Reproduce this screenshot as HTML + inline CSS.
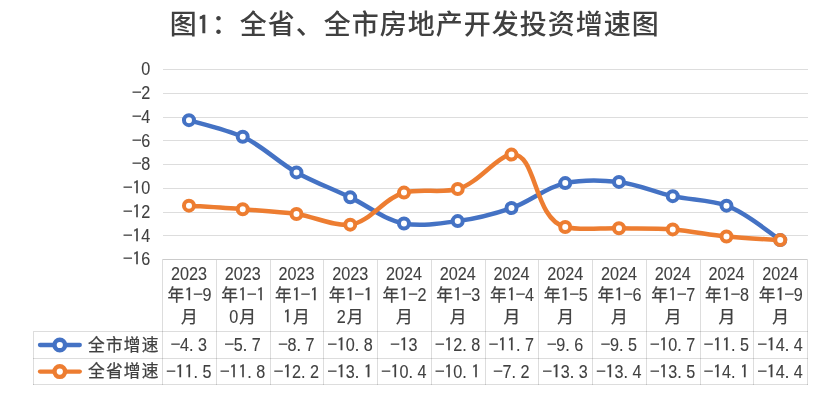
<!DOCTYPE html>
<html lang="zh-CN">
<head>
<meta charset="utf-8">
<title>图1：全省、全市房地产开发投资增速图</title>
<style>
html,body{margin:0;padding:0;background:#fff;}
body{width:826px;height:401px;overflow:hidden;}
svg{display:block;}
text{font-family:"Liberation Sans","Noto Sans CJK SC",sans-serif;fill:#404040;}
.t{font-size:18px;text-anchor:middle;stroke:#404040;stroke-width:0.1px;}
.c{font-size:16.7px;stroke-width:0.25px;}
.n{font-family:"IPAGothic","Liberation Sans",sans-serif;font-size:18px;stroke-width:0.25px;}
.h{stroke-width:0;}
.p{stroke-width:0;}
.tn{font-family:"IPAGothic","Liberation Sans",sans-serif;font-size:26px;font-weight:400;stroke:#404040;stroke-width:0.7px;}
.title{font-size:27px;letter-spacing:0px;font-weight:500;text-anchor:middle;}
</style>
</head>
<body>
<svg width="826" height="401" viewBox="0 0 826 401">
<rect width="826" height="401" fill="#fff"/>
<g stroke="#000" stroke-opacity="0.135" stroke-width="1" fill="none" shape-rendering="crispEdges">
<line x1="163" y1="69.5" x2="807.5" y2="69.5"/>
<line x1="163" y1="93.5" x2="807.5" y2="93.5"/>
<line x1="163" y1="117.5" x2="807.5" y2="117.5"/>
<line x1="163" y1="140.5" x2="807.5" y2="140.5"/>
<line x1="163" y1="164.5" x2="807.5" y2="164.5"/>
<line x1="163" y1="188.5" x2="807.5" y2="188.5"/>
<line x1="163" y1="212.5" x2="807.5" y2="212.5"/>
<line x1="163" y1="235.5" x2="807.5" y2="235.5"/>
<line x1="162" y1="259.5" x2="808" y2="259.5"/>
<line x1="33" y1="331.5" x2="808" y2="331.5"/>
<line x1="33" y1="358.5" x2="808" y2="358.5"/>
<line x1="33" y1="384.5" x2="808" y2="384.5"/>
<line x1="163" y1="259.5" x2="807" y2="259.5" stroke-opacity="0.08"/>
<line x1="162.5" y1="259.5" x2="162.5" y2="384.5"/>
<line x1="216.5" y1="259.5" x2="216.5" y2="384.5"/>
<line x1="270.5" y1="259.5" x2="270.5" y2="384.5"/>
<line x1="323.5" y1="259.5" x2="323.5" y2="384.5"/>
<line x1="377.5" y1="259.5" x2="377.5" y2="384.5"/>
<line x1="431.5" y1="259.5" x2="431.5" y2="384.5"/>
<line x1="485.5" y1="259.5" x2="485.5" y2="384.5"/>
<line x1="538.5" y1="259.5" x2="538.5" y2="384.5"/>
<line x1="592.5" y1="259.5" x2="592.5" y2="384.5"/>
<line x1="646.5" y1="259.5" x2="646.5" y2="384.5"/>
<line x1="700.5" y1="259.5" x2="700.5" y2="384.5"/>
<line x1="753.5" y1="259.5" x2="753.5" y2="384.5"/>
<line x1="807.5" y1="259.5" x2="807.5" y2="384.5"/>
<line x1="33.5" y1="331.5" x2="33.5" y2="384.5"/>
</g>
<text class="title" y="34.1"><tspan x="183.25" y="34.1">图</tspan><tspan class="tn" x="203.55" y="34">1</tspan><tspan x="225.25 253.25 281.25 309.25 337.25 365.25 393.25 421.25 449.25 477.25 505.25 533.25 561.25 589.25 617.25 645.25" y="34.1">：全省、全市房地产开发投资增速图</tspan></text>
<g>
<text class="t" y="75.4"><tspan x="145.8" textLength="9" lengthAdjust="spacingAndGlyphs">0</tspan></text>
<text class="t" y="99.15"><tspan class="n h" x="136.8" y="99.15" textLength="10.6" lengthAdjust="spacingAndGlyphs">-</tspan><tspan x="145.8" y="99.15" textLength="9" lengthAdjust="spacingAndGlyphs">2</tspan></text>
<text class="t" y="122.9"><tspan class="n h" x="136.8" y="122.9" textLength="10.6" lengthAdjust="spacingAndGlyphs">-</tspan><tspan x="145.8" y="122.9" textLength="9" lengthAdjust="spacingAndGlyphs">4</tspan></text>
<text class="t" y="146.65"><tspan class="n h" x="136.8" y="146.65" textLength="10.6" lengthAdjust="spacingAndGlyphs">-</tspan><tspan x="145.8" y="146.65" textLength="9" lengthAdjust="spacingAndGlyphs">6</tspan></text>
<text class="t" y="170.4"><tspan class="n h" x="136.8" y="170.4" textLength="10.6" lengthAdjust="spacingAndGlyphs">-</tspan><tspan x="145.8" y="170.4" textLength="9" lengthAdjust="spacingAndGlyphs">8</tspan></text>
<text class="t" y="194.15"><tspan class="n h" x="127.8" y="194.15" textLength="10.6" lengthAdjust="spacingAndGlyphs">-</tspan><tspan class="n" x="136.8" y="194.15">1</tspan><tspan x="145.8" y="194.15" textLength="9" lengthAdjust="spacingAndGlyphs">0</tspan></text>
<text class="t" y="217.9"><tspan class="n h" x="127.8" y="217.9" textLength="10.6" lengthAdjust="spacingAndGlyphs">-</tspan><tspan class="n" x="136.8" y="217.9">1</tspan><tspan x="145.8" y="217.9" textLength="9" lengthAdjust="spacingAndGlyphs">2</tspan></text>
<text class="t" y="241.65"><tspan class="n h" x="127.8" y="241.65" textLength="10.6" lengthAdjust="spacingAndGlyphs">-</tspan><tspan class="n" x="136.8" y="241.65">1</tspan><tspan x="145.8" y="241.65" textLength="9" lengthAdjust="spacingAndGlyphs">4</tspan></text>
<text class="t" y="265.4"><tspan class="n h" x="127.8" y="265.4" textLength="10.6" lengthAdjust="spacingAndGlyphs">-</tspan><tspan class="n" x="136.8" y="265.4">1</tspan><tspan x="145.8" y="265.4" textLength="9" lengthAdjust="spacingAndGlyphs">6</tspan></text>
</g>
<g>
<text class="t"><tspan x="188.97" y="279.7" textLength="36" lengthAdjust="spacingAndGlyphs">2023</tspan><tspan class="c" x="175.78" y="301">年</tspan><tspan class="n" x="188.97" y="301.4">1</tspan><tspan class="n h" x="197.97" y="301.4" textLength="10.6" lengthAdjust="spacingAndGlyphs">-</tspan><tspan x="206.97" y="301.4" textLength="9" lengthAdjust="spacingAndGlyphs">9</tspan><tspan class="c" x="189.28" y="322.7">月</tspan></text>
<text class="t"><tspan x="242.73" y="279.7" textLength="36" lengthAdjust="spacingAndGlyphs">2023</tspan><tspan class="c" x="229.53" y="301">年</tspan><tspan class="n" x="242.72" y="301.4">1</tspan><tspan class="n h" x="251.72" y="301.4" textLength="10.6" lengthAdjust="spacingAndGlyphs">-</tspan><tspan class="n" x="260.73" y="301.4">1</tspan><tspan x="233.72" y="323.1" textLength="9" lengthAdjust="spacingAndGlyphs">0</tspan><tspan class="c" x="247.53" y="322.7">月</tspan></text>
<text class="t"><tspan x="296.48" y="279.7" textLength="36" lengthAdjust="spacingAndGlyphs">2023</tspan><tspan class="c" x="283.28" y="301">年</tspan><tspan class="n" x="296.48" y="301.4">1</tspan><tspan class="n h" x="305.48" y="301.4" textLength="10.6" lengthAdjust="spacingAndGlyphs">-</tspan><tspan class="n" x="314.48" y="301.4">1</tspan><tspan class="n" x="287.48" y="323.1">1</tspan><tspan class="c" x="301.28" y="322.7">月</tspan></text>
<text class="t"><tspan x="350.23" y="279.7" textLength="36" lengthAdjust="spacingAndGlyphs">2023</tspan><tspan class="c" x="337.03" y="301">年</tspan><tspan class="n" x="350.23" y="301.4">1</tspan><tspan class="n h" x="359.23" y="301.4" textLength="10.6" lengthAdjust="spacingAndGlyphs">-</tspan><tspan class="n" x="368.23" y="301.4">1</tspan><tspan x="341.23" y="323.1" textLength="9" lengthAdjust="spacingAndGlyphs">2</tspan><tspan class="c" x="355.03" y="322.7">月</tspan></text>
<text class="t"><tspan x="403.98" y="279.7" textLength="36" lengthAdjust="spacingAndGlyphs">2024</tspan><tspan class="c" x="390.78" y="301">年</tspan><tspan class="n" x="403.98" y="301.4">1</tspan><tspan class="n h" x="412.98" y="301.4" textLength="10.6" lengthAdjust="spacingAndGlyphs">-</tspan><tspan x="421.98" y="301.4" textLength="9" lengthAdjust="spacingAndGlyphs">2</tspan><tspan class="c" x="404.28" y="322.7">月</tspan></text>
<text class="t"><tspan x="457.73" y="279.7" textLength="36" lengthAdjust="spacingAndGlyphs">2024</tspan><tspan class="c" x="444.53" y="301">年</tspan><tspan class="n" x="457.73" y="301.4">1</tspan><tspan class="n h" x="466.73" y="301.4" textLength="10.6" lengthAdjust="spacingAndGlyphs">-</tspan><tspan x="475.73" y="301.4" textLength="9" lengthAdjust="spacingAndGlyphs">3</tspan><tspan class="c" x="458.03" y="322.7">月</tspan></text>
<text class="t"><tspan x="511.48" y="279.7" textLength="36" lengthAdjust="spacingAndGlyphs">2024</tspan><tspan class="c" x="498.28" y="301">年</tspan><tspan class="n" x="511.48" y="301.4">1</tspan><tspan class="n h" x="520.48" y="301.4" textLength="10.6" lengthAdjust="spacingAndGlyphs">-</tspan><tspan x="529.48" y="301.4" textLength="9" lengthAdjust="spacingAndGlyphs">4</tspan><tspan class="c" x="511.78" y="322.7">月</tspan></text>
<text class="t"><tspan x="565.23" y="279.7" textLength="36" lengthAdjust="spacingAndGlyphs">2024</tspan><tspan class="c" x="552.02" y="301">年</tspan><tspan class="n" x="565.23" y="301.4">1</tspan><tspan class="n h" x="574.23" y="301.4" textLength="10.6" lengthAdjust="spacingAndGlyphs">-</tspan><tspan x="583.23" y="301.4" textLength="9" lengthAdjust="spacingAndGlyphs">5</tspan><tspan class="c" x="565.52" y="322.7">月</tspan></text>
<text class="t"><tspan x="618.98" y="279.7" textLength="36" lengthAdjust="spacingAndGlyphs">2024</tspan><tspan class="c" x="605.77" y="301">年</tspan><tspan class="n" x="618.98" y="301.4">1</tspan><tspan class="n h" x="627.98" y="301.4" textLength="10.6" lengthAdjust="spacingAndGlyphs">-</tspan><tspan x="636.98" y="301.4" textLength="9" lengthAdjust="spacingAndGlyphs">6</tspan><tspan class="c" x="619.27" y="322.7">月</tspan></text>
<text class="t"><tspan x="672.73" y="279.7" textLength="36" lengthAdjust="spacingAndGlyphs">2024</tspan><tspan class="c" x="659.52" y="301">年</tspan><tspan class="n" x="672.73" y="301.4">1</tspan><tspan class="n h" x="681.73" y="301.4" textLength="10.6" lengthAdjust="spacingAndGlyphs">-</tspan><tspan x="690.73" y="301.4" textLength="9" lengthAdjust="spacingAndGlyphs">7</tspan><tspan class="c" x="673.02" y="322.7">月</tspan></text>
<text class="t"><tspan x="726.48" y="279.7" textLength="36" lengthAdjust="spacingAndGlyphs">2024</tspan><tspan class="c" x="713.27" y="301">年</tspan><tspan class="n" x="726.48" y="301.4">1</tspan><tspan class="n h" x="735.48" y="301.4" textLength="10.6" lengthAdjust="spacingAndGlyphs">-</tspan><tspan x="744.48" y="301.4" textLength="9" lengthAdjust="spacingAndGlyphs">8</tspan><tspan class="c" x="726.77" y="322.7">月</tspan></text>
<text class="t"><tspan x="780.23" y="279.7" textLength="36" lengthAdjust="spacingAndGlyphs">2024</tspan><tspan class="c" x="767.02" y="301">年</tspan><tspan class="n" x="780.23" y="301.4">1</tspan><tspan class="n h" x="789.23" y="301.4" textLength="10.6" lengthAdjust="spacingAndGlyphs">-</tspan><tspan x="798.23" y="301.4" textLength="9" lengthAdjust="spacingAndGlyphs">9</tspan><tspan class="c" x="780.52" y="322.7">月</tspan></text>
</g>
<g>
<line x1="40" y1="345" x2="79.8" y2="345" stroke="#4472C4" stroke-width="4.3" stroke-linecap="round"/>
<circle cx="59.8" cy="345" r="5.3" fill="#fff" stroke="#4472C4" stroke-width="4.4"/>
<text class="t" y="351"><tspan class="c" x="96.35 114.25 132.15 150.05">全市增速</tspan></text>
<text class="t" y="351.2"><tspan class="n h" x="175.47" y="351.2" textLength="10.6" lengthAdjust="spacingAndGlyphs">-</tspan><tspan x="184.47" y="351.2" textLength="9" lengthAdjust="spacingAndGlyphs">4</tspan><tspan class="p" x="191.28" y="351.2">.</tspan><tspan x="202.47" y="351.2" textLength="9" lengthAdjust="spacingAndGlyphs">3</tspan></text>
<text class="t" y="351.2"><tspan class="n h" x="229.22" y="351.2" textLength="10.6" lengthAdjust="spacingAndGlyphs">-</tspan><tspan x="238.22" y="351.2" textLength="9" lengthAdjust="spacingAndGlyphs">5</tspan><tspan class="p" x="245.03" y="351.2">.</tspan><tspan x="256.23" y="351.2" textLength="9" lengthAdjust="spacingAndGlyphs">7</tspan></text>
<text class="t" y="351.2"><tspan class="n h" x="282.98" y="351.2" textLength="10.6" lengthAdjust="spacingAndGlyphs">-</tspan><tspan x="291.98" y="351.2" textLength="9" lengthAdjust="spacingAndGlyphs">8</tspan><tspan class="p" x="298.78" y="351.2">.</tspan><tspan x="309.98" y="351.2" textLength="9" lengthAdjust="spacingAndGlyphs">7</tspan></text>
<text class="t" y="351.2"><tspan class="n h" x="332.23" y="351.2" textLength="10.6" lengthAdjust="spacingAndGlyphs">-</tspan><tspan class="n" x="341.23" y="351.2">1</tspan><tspan x="350.23" y="351.2" textLength="9" lengthAdjust="spacingAndGlyphs">0</tspan><tspan class="p" x="357.03" y="351.2">.</tspan><tspan x="368.23" y="351.2" textLength="9" lengthAdjust="spacingAndGlyphs">8</tspan></text>
<text class="t" y="351.2"><tspan class="n h" x="394.98" y="351.2" textLength="10.6" lengthAdjust="spacingAndGlyphs">-</tspan><tspan class="n" x="403.98" y="351.2">1</tspan><tspan x="412.98" y="351.2" textLength="9" lengthAdjust="spacingAndGlyphs">3</tspan></text>
<text class="t" y="351.2"><tspan class="n h" x="439.73" y="351.2" textLength="10.6" lengthAdjust="spacingAndGlyphs">-</tspan><tspan class="n" x="448.73" y="351.2">1</tspan><tspan x="457.73" y="351.2" textLength="9" lengthAdjust="spacingAndGlyphs">2</tspan><tspan class="p" x="464.53" y="351.2">.</tspan><tspan x="475.73" y="351.2" textLength="9" lengthAdjust="spacingAndGlyphs">8</tspan></text>
<text class="t" y="351.2"><tspan class="n h" x="493.48" y="351.2" textLength="10.6" lengthAdjust="spacingAndGlyphs">-</tspan><tspan class="n" x="502.48 511.48" y="351.2">11</tspan><tspan class="p" x="518.27" y="351.2">.</tspan><tspan x="529.48" y="351.2" textLength="9" lengthAdjust="spacingAndGlyphs">7</tspan></text>
<text class="t" y="351.2"><tspan class="n h" x="551.73" y="351.2" textLength="10.6" lengthAdjust="spacingAndGlyphs">-</tspan><tspan x="560.73" y="351.2" textLength="9" lengthAdjust="spacingAndGlyphs">9</tspan><tspan class="p" x="567.52" y="351.2">.</tspan><tspan x="578.73" y="351.2" textLength="9" lengthAdjust="spacingAndGlyphs">6</tspan></text>
<text class="t" y="351.2"><tspan class="n h" x="605.48" y="351.2" textLength="10.6" lengthAdjust="spacingAndGlyphs">-</tspan><tspan x="614.48" y="351.2" textLength="9" lengthAdjust="spacingAndGlyphs">9</tspan><tspan class="p" x="621.27" y="351.2">.</tspan><tspan x="632.48" y="351.2" textLength="9" lengthAdjust="spacingAndGlyphs">5</tspan></text>
<text class="t" y="351.2"><tspan class="n h" x="654.73" y="351.2" textLength="10.6" lengthAdjust="spacingAndGlyphs">-</tspan><tspan class="n" x="663.73" y="351.2">1</tspan><tspan x="672.73" y="351.2" textLength="9" lengthAdjust="spacingAndGlyphs">0</tspan><tspan class="p" x="679.52" y="351.2">.</tspan><tspan x="690.73" y="351.2" textLength="9" lengthAdjust="spacingAndGlyphs">7</tspan></text>
<text class="t" y="351.2"><tspan class="n h" x="708.48" y="351.2" textLength="10.6" lengthAdjust="spacingAndGlyphs">-</tspan><tspan class="n" x="717.48 726.48" y="351.2">11</tspan><tspan class="p" x="733.27" y="351.2">.</tspan><tspan x="744.48" y="351.2" textLength="9" lengthAdjust="spacingAndGlyphs">5</tspan></text>
<text class="t" y="351.2"><tspan class="n h" x="762.23" y="351.2" textLength="10.6" lengthAdjust="spacingAndGlyphs">-</tspan><tspan class="n" x="771.23" y="351.2">1</tspan><tspan x="780.23" y="351.2" textLength="9" lengthAdjust="spacingAndGlyphs">4</tspan><tspan class="p" x="787.02" y="351.2">.</tspan><tspan x="798.23" y="351.2" textLength="9" lengthAdjust="spacingAndGlyphs">4</tspan></text>
</g>
<g>
<line x1="40" y1="371.6" x2="79.8" y2="371.6" stroke="#ED7D31" stroke-width="4.3" stroke-linecap="round"/>
<circle cx="59.8" cy="371.6" r="5.3" fill="#fff" stroke="#ED7D31" stroke-width="4.4"/>
<text class="t" y="377.3"><tspan class="c" x="96.35 114.25 132.15 150.05">全省增速</tspan></text>
<text class="t" y="377.5"><tspan class="n h" x="170.97" y="377.5" textLength="10.6" lengthAdjust="spacingAndGlyphs">-</tspan><tspan class="n" x="179.97 188.97" y="377.5">11</tspan><tspan class="p" x="195.78" y="377.5">.</tspan><tspan x="206.97" y="377.5" textLength="9" lengthAdjust="spacingAndGlyphs">5</tspan></text>
<text class="t" y="377.5"><tspan class="n h" x="224.72" y="377.5" textLength="10.6" lengthAdjust="spacingAndGlyphs">-</tspan><tspan class="n" x="233.72 242.72" y="377.5">11</tspan><tspan class="p" x="249.53" y="377.5">.</tspan><tspan x="260.73" y="377.5" textLength="9" lengthAdjust="spacingAndGlyphs">8</tspan></text>
<text class="t" y="377.5"><tspan class="n h" x="278.48" y="377.5" textLength="10.6" lengthAdjust="spacingAndGlyphs">-</tspan><tspan class="n" x="287.48" y="377.5">1</tspan><tspan x="296.48" y="377.5" textLength="9" lengthAdjust="spacingAndGlyphs">2</tspan><tspan class="p" x="303.28" y="377.5">.</tspan><tspan x="314.48" y="377.5" textLength="9" lengthAdjust="spacingAndGlyphs">2</tspan></text>
<text class="t" y="377.5"><tspan class="n h" x="332.23" y="377.5" textLength="10.6" lengthAdjust="spacingAndGlyphs">-</tspan><tspan class="n" x="341.23" y="377.5">1</tspan><tspan x="350.23" y="377.5" textLength="9" lengthAdjust="spacingAndGlyphs">3</tspan><tspan class="p" x="357.03" y="377.5">.</tspan><tspan class="n" x="368.23" y="377.5">1</tspan></text>
<text class="t" y="377.5"><tspan class="n h" x="385.98" y="377.5" textLength="10.6" lengthAdjust="spacingAndGlyphs">-</tspan><tspan class="n" x="394.98" y="377.5">1</tspan><tspan x="403.98" y="377.5" textLength="9" lengthAdjust="spacingAndGlyphs">0</tspan><tspan class="p" x="410.78" y="377.5">.</tspan><tspan x="421.98" y="377.5" textLength="9" lengthAdjust="spacingAndGlyphs">4</tspan></text>
<text class="t" y="377.5"><tspan class="n h" x="439.73" y="377.5" textLength="10.6" lengthAdjust="spacingAndGlyphs">-</tspan><tspan class="n" x="448.73" y="377.5">1</tspan><tspan x="457.73" y="377.5" textLength="9" lengthAdjust="spacingAndGlyphs">0</tspan><tspan class="p" x="464.53" y="377.5">.</tspan><tspan class="n" x="475.73" y="377.5">1</tspan></text>
<text class="t" y="377.5"><tspan class="n h" x="497.98" y="377.5" textLength="10.6" lengthAdjust="spacingAndGlyphs">-</tspan><tspan x="506.98" y="377.5" textLength="9" lengthAdjust="spacingAndGlyphs">7</tspan><tspan class="p" x="513.77" y="377.5">.</tspan><tspan x="524.98" y="377.5" textLength="9" lengthAdjust="spacingAndGlyphs">2</tspan></text>
<text class="t" y="377.5"><tspan class="n h" x="547.23" y="377.5" textLength="10.6" lengthAdjust="spacingAndGlyphs">-</tspan><tspan class="n" x="556.23" y="377.5">1</tspan><tspan x="565.23" y="377.5" textLength="9" lengthAdjust="spacingAndGlyphs">3</tspan><tspan class="p" x="572.02" y="377.5">.</tspan><tspan x="583.23" y="377.5" textLength="9" lengthAdjust="spacingAndGlyphs">3</tspan></text>
<text class="t" y="377.5"><tspan class="n h" x="600.98" y="377.5" textLength="10.6" lengthAdjust="spacingAndGlyphs">-</tspan><tspan class="n" x="609.98" y="377.5">1</tspan><tspan x="618.98" y="377.5" textLength="9" lengthAdjust="spacingAndGlyphs">3</tspan><tspan class="p" x="625.77" y="377.5">.</tspan><tspan x="636.98" y="377.5" textLength="9" lengthAdjust="spacingAndGlyphs">4</tspan></text>
<text class="t" y="377.5"><tspan class="n h" x="654.73" y="377.5" textLength="10.6" lengthAdjust="spacingAndGlyphs">-</tspan><tspan class="n" x="663.73" y="377.5">1</tspan><tspan x="672.73" y="377.5" textLength="9" lengthAdjust="spacingAndGlyphs">3</tspan><tspan class="p" x="679.52" y="377.5">.</tspan><tspan x="690.73" y="377.5" textLength="9" lengthAdjust="spacingAndGlyphs">5</tspan></text>
<text class="t" y="377.5"><tspan class="n h" x="708.48" y="377.5" textLength="10.6" lengthAdjust="spacingAndGlyphs">-</tspan><tspan class="n" x="717.48" y="377.5">1</tspan><tspan x="726.48" y="377.5" textLength="9" lengthAdjust="spacingAndGlyphs">4</tspan><tspan class="p" x="733.27" y="377.5">.</tspan><tspan class="n" x="744.48" y="377.5">1</tspan></text>
<text class="t" y="377.5"><tspan class="n h" x="762.23" y="377.5" textLength="10.6" lengthAdjust="spacingAndGlyphs">-</tspan><tspan class="n" x="771.23" y="377.5">1</tspan><tspan x="780.23" y="377.5" textLength="9" lengthAdjust="spacingAndGlyphs">4</tspan><tspan class="p" x="787.02" y="377.5">.</tspan><tspan x="798.23" y="377.5" textLength="9" lengthAdjust="spacingAndGlyphs">4</tspan></text>
</g>
<path d="M188.97,120.16 C197.93,122.93 226.30,129.39 242.72,136.79 C262.88,145.87 277.27,161.83 296.48,172.41 C313.39,181.73 332.42,188.90 350.23,197.35 C368.26,205.91 384.41,219.96 403.98,223.47 C420.69,226.47 440.17,223.55 457.73,221.10 C476.03,218.55 494.39,213.88 511.48,208.04 C530.42,201.56 545.80,187.20 565.23,183.10 C582.01,179.56 601.49,179.91 618.98,181.91 C637.37,184.01 654.55,192.17 672.73,196.16 C690.40,200.05 710.21,199.89 726.48,205.66 C747.04,212.97 771.27,234.36 780.23,240.10" fill="none" stroke="#4472C4" stroke-width="4.5" stroke-linecap="round" stroke-linejoin="round"/>
<g fill="#fff" stroke="#4472C4" stroke-width="4">
<circle cx="188.97" cy="120.16" r="5"/>
<circle cx="242.72" cy="136.79" r="5"/>
<circle cx="296.48" cy="172.41" r="5"/>
<circle cx="350.23" cy="197.35" r="5"/>
<circle cx="403.98" cy="223.47" r="5"/>
<circle cx="457.73" cy="221.1" r="5"/>
<circle cx="511.48" cy="208.04" r="5"/>
<circle cx="565.23" cy="183.1" r="5"/>
<circle cx="618.98" cy="181.91" r="5"/>
<circle cx="672.73" cy="196.16" r="5"/>
<circle cx="726.48" cy="205.66" r="5"/>
<circle cx="780.23" cy="240.1" r="5"/>
</g>
<path d="M188.97,205.66 C197.93,206.26 224.83,207.84 242.72,209.22 C260.66,210.61 278.76,211.45 296.48,213.97 C314.60,216.56 333.77,226.65 350.23,224.66 C370.31,222.24 383.54,198.17 403.98,192.60 C420.29,188.15 441.57,193.59 457.73,189.04 C478.57,183.16 496.26,156.43 511.48,154.60 C537.02,151.52 532.91,218.84 565.23,227.04 C580.09,230.81 601.06,227.83 618.98,228.22 C636.89,228.62 654.92,228.05 672.73,229.41 C690.76,230.79 708.47,234.75 726.48,236.54 C744.30,238.30 771.27,239.51 780.23,240.10" fill="none" stroke="#ED7D31" stroke-width="4.5" stroke-linecap="round" stroke-linejoin="round"/>
<g fill="#fff" stroke="#ED7D31" stroke-width="4">
<circle cx="188.97" cy="205.66" r="5"/>
<circle cx="242.72" cy="209.22" r="5"/>
<circle cx="296.48" cy="213.97" r="5"/>
<circle cx="350.23" cy="224.66" r="5"/>
<circle cx="403.98" cy="192.6" r="5"/>
<circle cx="457.73" cy="189.04" r="5"/>
<circle cx="511.48" cy="154.6" r="5"/>
<circle cx="565.23" cy="227.04" r="5"/>
<circle cx="618.98" cy="228.22" r="5"/>
<circle cx="672.73" cy="229.41" r="5"/>
<circle cx="726.48" cy="236.54" r="5"/>
<circle cx="780.23" cy="240.1" r="5"/>
</g>
</svg>
</body>
</html>
